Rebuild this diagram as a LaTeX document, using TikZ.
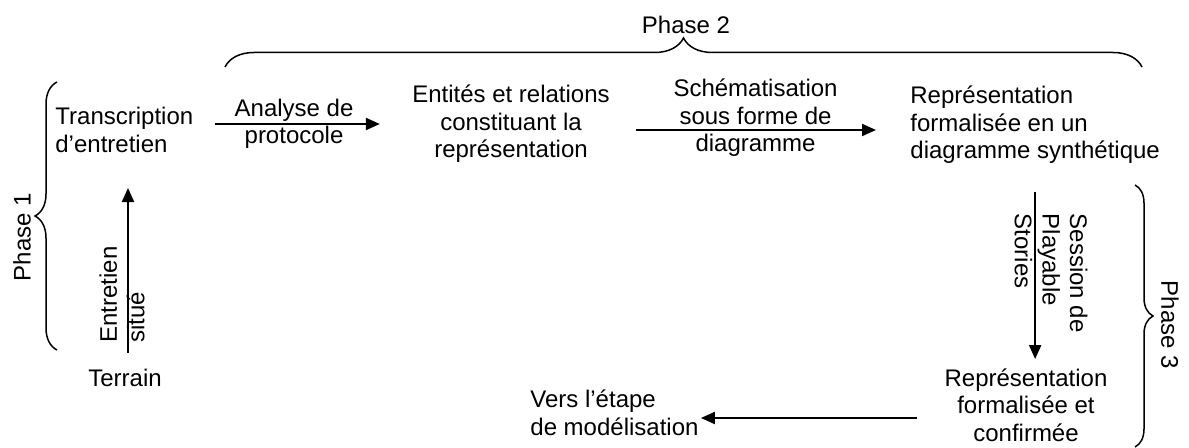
\documentclass[tikz,border=0pt]{standalone}
\usepackage{fontspec}
\setmainfont{Liberation Sans}
\usetikzlibrary{arrows.meta,positioning,decorations.pathreplacing}
\tikzset{
  txt/.style={align=center, inner sep=0pt, font=\fontsize{12}{13.8}\selectfont},
  ltxt/.style={txt, align=left},
  arr/.style={-{Triangle[length=7pt,width=6pt]}, line width=1pt},
  phasebrace/.style={decorate, decoration={brace, amplitude=#1}, line width=0.75pt},
  phasebrace/.default=12pt
}
\begin{document}
\begin{tikzpicture}[x=0.5pt, y=-0.5pt]
  \useasboundingbox (0,0) rectangle (1189,448);

  \node[ltxt, anchor=west] (trans) at (55,130) {Transcription\\d’entretien};
  \node[txt] (ent) at (511,124) {Entités et relations\\constituant la\\représentation};
  \node[ltxt, anchor=west] (rep1) at (910,125) {Représentation\\formalisée en un\\diagramme synthétique};
  \node[txt] (terrain) at (125,378) {Terrain};
  \node[txt] (rep2) at (1026,405) {Représentation\\formalisée et\\confirmée};
  \node[ltxt, anchor=west] (vers) at (530,413) {Vers l’étape\\de modélisation};

  \draw[arr, shorten <=10.5pt, shorten >=16pt] (ent.west -| trans.east) -- (ent.west)
    node[txt, pos=0.46] (anal) {Analyse de\\protocole};
  \draw[arr, shorten <=13pt, shorten >=17pt] ([yshift=-3pt]ent.east) -- ([yshift=-3pt]ent.east -| rep1.west)
    node[txt, pos=0.485, yshift=6pt] (schem) {Schématisation\\sous forme de\\diagramme};
  \draw[arr, shorten <=8pt, shorten >=17.5pt] ([xshift=1.5pt]terrain.north) -- ([xshift=1.5pt]trans.south -| terrain.north);
  \node[ltxt, rotate=90, anchor=west] (entlab) at ([xshift=-1.5pt, yshift=13pt]terrain.north) {Entretien\\situé};
  \draw[arr, shorten <=14pt, shorten >=4.5pt] (rep1.south) -- (rep1.south |- rep2.north);
  \node[ltxt, rotate=-90, anchor=west] (sess) at ([xshift=8pt, yshift=-24.5pt]rep1.south) {Session de\\Playable\\Stories};
  \draw[arr, shorten <=13.5pt, shorten >=1pt] ([yshift=-6.5pt]rep2.west) -- ([yshift=-6.5pt]rep2.west -| vers.east);

  \draw[phasebrace=14.5pt] (225,67) -- (1142,67);
  \draw[phasebrace=11pt] (57,350) -- (57,82);
  \draw[phasebrace=9pt] (1135,185) -- (1135,447);
  \node[txt] (ph2) at (686,25) {Phase 2};
  \node[txt, rotate=90] (ph1) at (22,237) {Phase 1};
  \node[txt, rotate=-90] (ph3) at (1170,325) {Phase 3};
\end{tikzpicture}
\end{document}
